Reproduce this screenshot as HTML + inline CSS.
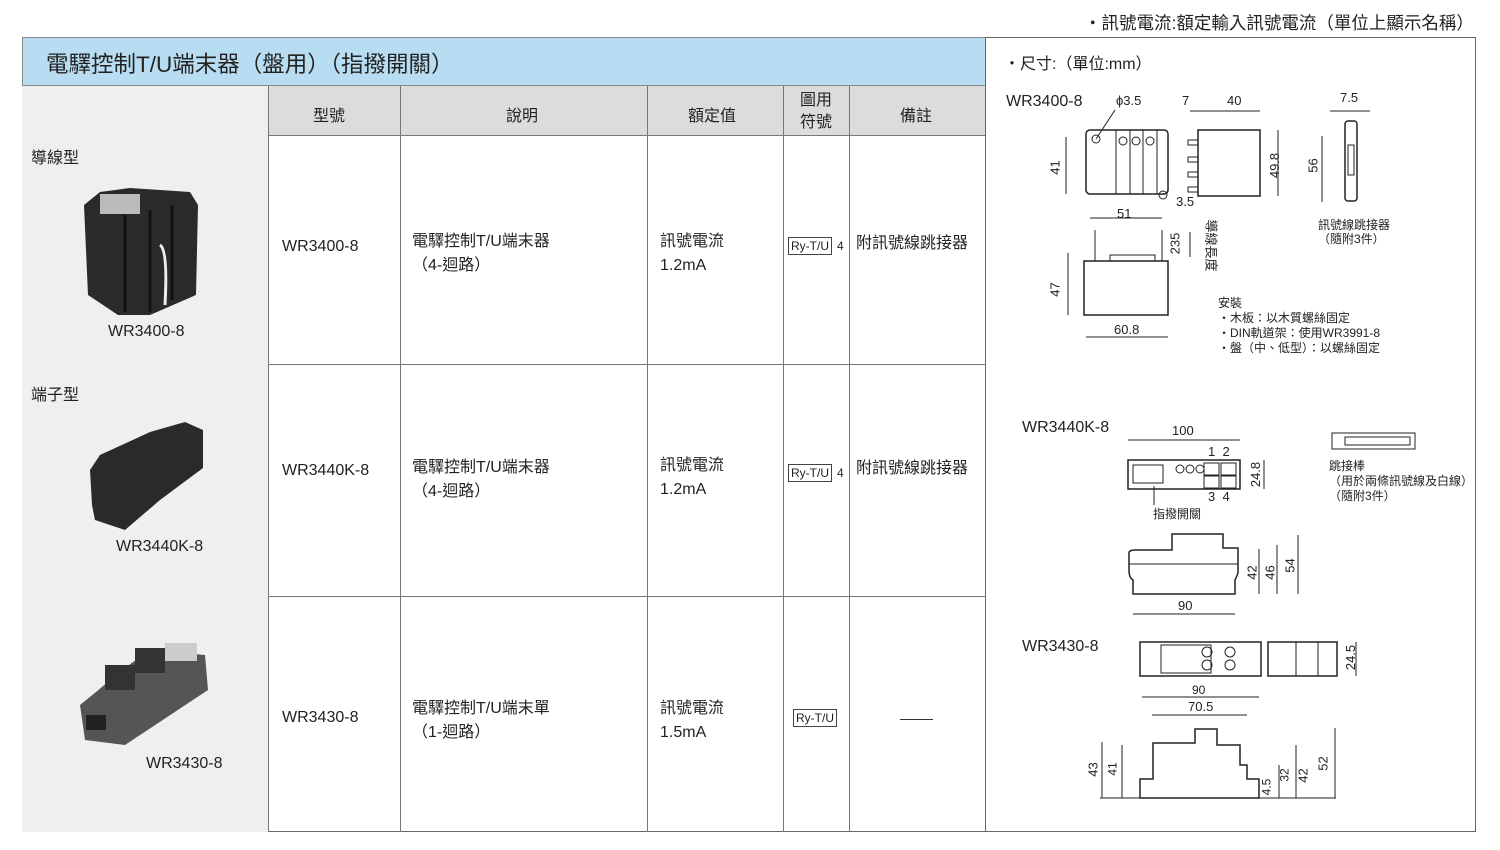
<!DOCTYPE html>
<html><head><meta charset="utf-8"><style>
*{margin:0;padding:0;box-sizing:border-box}
body{width:1500px;height:850px;background:#fff;position:relative;overflow:hidden;font-family:"Liberation Sans","Noto Sans CJK TC",sans-serif;color:#222}
.a{position:absolute}
.t{position:absolute;white-space:nowrap}
.c{font-size:16px}
</style></head><body>
<div class="t" style="left:1084px;top:10px;font-size:17.5px">・訊號電流:額定輸入訊號電流（單位上顯示名稱）</div>
<div class="a" style="left:22px;top:37px;width:1454px;height:795px;border:1px solid #666"></div>
<div class="a" style="left:22px;top:37px;width:964px;height:49px;background:#b8dcf1;border:1px solid #888"></div>
<div class="t" style="left:46px;top:47px;font-size:22.5px;color:#222">電驛控制T/U端末器（盤用）（指撥開關）</div>
<div class="a" style="left:22px;top:86px;width:247px;height:746px;background:#efefee;border-right:1px solid #777"></div>
<div class="a" style="left:269px;top:86px;width:717px;height:50px;background:#dcdcdc;border-bottom:1px solid #777"></div>
<div class="a" style="left:985px;top:37px;width:1px;height:795px;background:#666"></div>
<div class="a" style="left:400px;top:86px;width:1px;height:746px;background:#777"></div>
<div class="a" style="left:647px;top:86px;width:1px;height:746px;background:#777"></div>
<div class="a" style="left:783px;top:86px;width:1px;height:746px;background:#777"></div>
<div class="a" style="left:849px;top:86px;width:1px;height:746px;background:#777"></div>
<div class="a" style="left:269px;top:364px;width:717px;height:1px;background:#777"></div>
<div class="a" style="left:269px;top:596px;width:717px;height:1px;background:#777"></div>
<div class="t c" style="left:313px;top:102px">型號</div>
<div class="t c" style="left:506px;top:102px">說明</div>
<div class="t c" style="left:688px;top:102px">額定值</div>
<div class="t c" style="left:800px;top:90px;line-height:22px;text-align:center">圖用<br>符號</div>
<div class="t c" style="left:900px;top:102px">備註</div>

<div class="t c" style="left:282px;top:238px">WR3400-8</div>
<div class="t c" style="left:412px;top:230px;line-height:24px">電驛控制T/U端末器<br>（4-迴路）</div>
<div class="t c" style="left:660px;top:230px;line-height:24px">訊號電流<br>1.2mA</div>
<div class="t" style="left:788px;top:237px;font-size:12px;border:1px solid #444;padding:1px 2px">Ry-T/U</div><div class="t" style="left:837px;top:239px;font-size:12px">4</div>
<div class="t c" style="left:856px;top:229px">附訊號線跳接器</div>

<div class="t c" style="left:282px;top:462px">WR3440K-8</div>
<div class="t c" style="left:412px;top:456px;line-height:24px">電驛控制T/U端末器<br>（4-迴路）</div>
<div class="t c" style="left:660px;top:454px;line-height:24px">訊號電流<br>1.2mA</div>
<div class="t" style="left:788px;top:464px;font-size:12px;border:1px solid #444;padding:1px 2px">Ry-T/U</div><div class="t" style="left:837px;top:466px;font-size:12px">4</div>
<div class="t c" style="left:856px;top:454px">附訊號線跳接器</div>

<div class="t c" style="left:282px;top:709px">WR3430-8</div>
<div class="t c" style="left:412px;top:697px;line-height:24px">電驛控制T/U端末單<br>（1-迴路）</div>
<div class="t c" style="left:660px;top:697px;line-height:24px">訊號電流<br>1.5mA</div>
<div class="t" style="left:793px;top:709px;font-size:12px;border:1px solid #444;padding:1px 2px">Ry-T/U</div>
<div class="a" style="left:900px;top:719px;width:33px;height:1px;background:#333"></div>

<div class="t c" style="left:31px;top:144px">導線型</div>
<div class="t c" style="left:31px;top:381px">端子型</div>
<div class="t c" style="left:108px;top:323px">WR3400-8</div>
<div class="t c" style="left:116px;top:538px">WR3440K-8</div>
<div class="t c" style="left:146px;top:755px">WR3430-8</div>
<svg class="a" style="left:0;top:0" width="270" height="850">
<g fill="#2a2a2a">
<polygon points="84,205 100,192 130,188 190,192 198,205 196,295 150,315 118,315 88,295"/>
<rect x="100" y="194" width="40" height="20" fill="#bbb"/>
<path d="M125,215 V312 M150,210 V312 M172,205 V300" stroke="#111" stroke-width="3"/>
<path d="M210,205 Q218,210 215,280 L192,300" stroke="#eee" stroke-width="3" fill="none"/>
<path d="M160,245 Q168,250 165,305" stroke="#eee" stroke-width="3" fill="none"/>
<polygon points="90,470 100,455 150,432 185,422 203,430 203,468 160,500 125,530 95,520 92,505"/>
<polygon points="80,705 96,692 122,670 150,650 205,655 208,690 125,745 85,740" fill="#555"/>
<rect x="105" y="665" width="30" height="25" fill="#333"/>
<rect x="135" y="648" width="30" height="25" fill="#333"/>
<rect x="165" y="643" width="32" height="18" fill="#ccc"/>
<rect x="86" y="715" width="20" height="15" fill="#222"/>
</g>
</svg>
<div class="t" style="left:1004px;top:50px;font-size:16px">・尺寸:（單位:mm）</div>
<div class="t c" style="left:1006px;top:93px">WR3400-8</div>
<div class="t" style="left:1116px;top:93px;font-size:13px">ϕ3.5</div>
<div class="t" style="left:1182px;top:93px;font-size:13px">7</div>
<div class="t" style="left:1227px;top:93px;font-size:13px">40</div>
<div class="t" style="left:1340px;top:90px;font-size:13px">7.5</div>
<div class="t" style="left:1318px;top:218px;font-size:12px;line-height:14px">訊號線跳接器<br>（隨附3件）</div>
<div class="t" style="left:1218px;top:296px;font-size:12px;line-height:15px">安裝<br>・木板：以木質螺絲固定<br>・DIN軌道架：使用WR3991-8<br>・盤（中、低型）：以螺絲固定</div>
<div class="t" style="left:1114px;top:322px;font-size:13px">60.8</div>
<div class="t" style="left:1117px;top:206px;font-size:13px">51</div>
<div class="t" style="left:1176px;top:194px;font-size:13px">3.5</div>
<div class="t" style="left:1048px;top:282px;font-size:13px;transform:rotate(-90deg)">47</div>
<div class="t" style="left:1048px;top:160px;font-size:13px;transform:rotate(-90deg)">41</div>
<div class="t" style="left:1262px;top:158px;font-size:13px;transform:rotate(-90deg)">49.8</div>
<div class="t" style="left:1306px;top:158px;font-size:13px;transform:rotate(-90deg)">56</div>
<div class="t" style="left:1164px;top:236px;font-size:13px;transform:rotate(-90deg)">235</div>
<div class="t" style="left:1186px;top:236px;font-size:13px;transform:rotate(90deg)">導線長度</div>
<div class="t c" style="left:1022px;top:419px">WR3440K-8</div>
<div class="t" style="left:1172px;top:423px;font-size:13px">100</div>
<div class="t" style="left:1208px;top:444px;font-size:13px">1&nbsp;&nbsp;2</div>
<div class="t" style="left:1208px;top:489px;font-size:13px">3&nbsp;&nbsp;4</div>
<div class="t" style="left:1153px;top:505px;font-size:12px">指撥開關</div>
<div class="t" style="left:1243px;top:467px;font-size:13px;transform:rotate(-90deg)">24.8</div>
<div class="t" style="left:1329px;top:459px;font-size:12px;line-height:15px">跳接棒<br>（用於兩條訊號線及白線）<br>（隨附3件）</div>
<div class="t" style="left:1178px;top:598px;font-size:13px">90</div>
<div class="t" style="left:1245px;top:565px;font-size:13px;transform:rotate(-90deg)">42</div>
<div class="t" style="left:1263px;top:565px;font-size:13px;transform:rotate(-90deg)">46</div>
<div class="t" style="left:1283px;top:558px;font-size:13px;transform:rotate(-90deg)">54</div>
<div class="t c" style="left:1022px;top:638px">WR3430-8</div>
<div class="t" style="left:1338px;top:650px;font-size:13px;transform:rotate(-90deg)">24.5</div>
<div class="t" style="left:1192px;top:683px;font-size:12px">90</div>
<div class="t" style="left:1188px;top:699px;font-size:13px">70.5</div>
<div class="t" style="left:1086px;top:762px;font-size:13px;transform:rotate(-90deg)">43</div>
<div class="t" style="left:1106px;top:762px;font-size:12px;transform:rotate(-90deg)">41</div>
<div class="t" style="left:1258px;top:780px;font-size:12px;transform:rotate(-90deg)">4.5</div>
<div class="t" style="left:1278px;top:768px;font-size:12px;transform:rotate(-90deg)">32</div>
<div class="t" style="left:1296px;top:768px;font-size:13px;transform:rotate(-90deg)">42</div>
<div class="t" style="left:1316px;top:756px;font-size:13px;transform:rotate(-90deg)">52</div>
<svg class="a" style="left:0;top:0" width="1500" height="850" fill="none" stroke="#222" stroke-width="1">
<rect x="1086" y="130" width="82" height="64" rx="4" stroke-width="1.5"/>
<line x1="1116" y1="130" x2="1116" y2="194"/><line x1="1130" y1="130" x2="1130" y2="194"/><line x1="1143" y1="130" x2="1143" y2="194"/><line x1="1157" y1="130" x2="1157" y2="194"/>
<circle cx="1123" cy="141" r="4"/><circle cx="1136" cy="141" r="4"/><circle cx="1150" cy="141" r="4"/>
<circle cx="1096" cy="139" r="4"/><circle cx="1163" cy="195" r="4"/>
<line x1="1096" y1="139" x2="1115" y2="110"/>
<line x1="1066" y1="137" x2="1066" y2="194"/><line x1="1090" y1="218" x2="1162" y2="218"/>
<rect x="1198" y="130" width="62" height="66" stroke-width="1.5"/>
<rect x="1188" y="140" width="10" height="5"/><rect x="1188" y="157" width="10" height="5"/><rect x="1188" y="172" width="10" height="5"/><rect x="1188" y="187" width="10" height="5"/>
<line x1="1190" y1="111" x2="1260" y2="111"/><line x1="1278" y1="130" x2="1278" y2="196"/>
<rect x="1345" y="121" width="12" height="80" rx="3" stroke-width="1.5"/>
<rect x="1348" y="145" width="6" height="30"/>
<line x1="1322" y1="136" x2="1322" y2="202"/><line x1="1330" y1="111" x2="1370" y2="111"/>
<rect x="1084" y="261" width="84" height="54" stroke-width="1.5"/>
<line x1="1095" y1="230" x2="1095" y2="261"/><line x1="1162" y1="230" x2="1162" y2="261"/>
<rect x="1110" y="255" width="45" height="6"/>
<line x1="1068" y1="253" x2="1068" y2="315"/><line x1="1086" y1="337" x2="1168" y2="337"/><line x1="1190" y1="232" x2="1190" y2="257"/>
<rect x="1128" y="460" width="112" height="29" stroke-width="1.5"/>
<rect x="1133" y="465" width="30" height="18"/>
<g><circle cx="1180" cy="469" r="4"/><circle cx="1190" cy="469" r="4"/><circle cx="1200" cy="469" r="4"/><rect x="1204" y="463" width="15" height="12"/><rect x="1221" y="463" width="15" height="12"/><rect x="1204" y="476" width="15" height="12"/><rect x="1221" y="476" width="15" height="12"/></g>
<line x1="1128" y1="440" x2="1240" y2="440"/><line x1="1264" y1="460" x2="1264" y2="489"/><line x1="1154" y1="486" x2="1154" y2="505"/>
<path d="M1332,433 H1415 V449 H1332 Z M1345,437 H1410 V445 H1345 Z"/>
<path d="M1129,553 Q1129,550 1135,550 H1172 V534 H1223 V548 H1238 V573 Q1236,578 1235,580 V594 H1133 V580 Q1129,578 1129,570 Z" stroke-width="1.5"/>
<line x1="1129" y1="564" x2="1238" y2="564"/>
<line x1="1133" y1="614" x2="1235" y2="614"/>
<line x1="1259" y1="549" x2="1259" y2="594"/><line x1="1277" y1="545" x2="1277" y2="594"/><line x1="1298" y1="535" x2="1298" y2="594"/>
<rect x="1140" y="642" width="121" height="34" stroke-width="1.5"/>
<rect x="1161" y="645" width="50" height="28"/>
<circle cx="1207" cy="652" r="5"/><circle cx="1207" cy="665" r="5"/><circle cx="1230" cy="652" r="5"/><circle cx="1230" cy="665" r="5"/>
<rect x="1268" y="642" width="69" height="34" stroke-width="1.5"/>
<line x1="1296" y1="642" x2="1296" y2="676"/><line x1="1318" y1="642" x2="1318" y2="676"/>
<line x1="1356" y1="642" x2="1356" y2="676"/>
<line x1="1142" y1="697" x2="1259" y2="697"/><line x1="1152" y1="715" x2="1247" y2="715"/>
<path d="M1140,798 V779 H1153 V743 H1195 V729 H1217 V745 H1240 V765 H1247 V779 H1259 V798 Z" stroke-width="1.5"/>
<line x1="1102" y1="742" x2="1102" y2="798"/><line x1="1122" y1="745" x2="1122" y2="798"/>
<line x1="1100" y1="798" x2="1336" y2="798"/>
<line x1="1279" y1="765" x2="1279" y2="798"/><line x1="1296" y1="745" x2="1296" y2="798"/><line x1="1335" y1="728" x2="1335" y2="798"/>
</svg>
</body></html>
